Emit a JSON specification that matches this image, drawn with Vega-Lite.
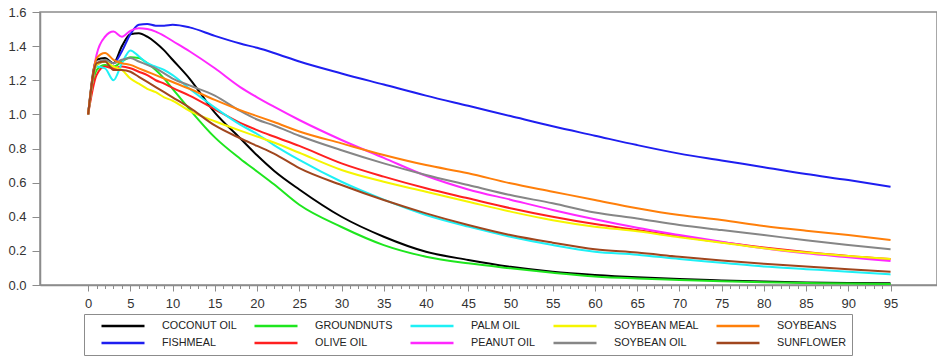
{
  "$schema": "https://vega.github.io/schema/vega-lite/v6.json",
  "width": 897,
  "height": 273,
  "autosize": {"type": "none"},
  "padding": {"left": 40, "top": 12, "right": 0, "bottom": 71},
  "background": "white",
  "config": {"view": {"stroke": "#8c8c8c", "strokeWidth": 1.5}, "font": "Liberation Sans"},
  "data": {"values": [
    {"x":0,"COCONUT OIL":1.0,"FISHMEAL":1.0,"GROUNDNUTS":1.0,"PALM OIL":1.0,"OLIVE OIL":1.0,"PEANUT OIL":1.0,"SOYBEAN MEAL":1.0,"SOYBEAN OIL":1.0,"SOYBEANS":1.0,"SUNFLOWER":1.0},
    {"x":1,"COCONUT OIL":1.32,"FISHMEAL":1.29,"GROUNDNUTS":1.26,"PALM OIL":1.28,"OLIVE OIL":1.23,"PEANUT OIL":1.35,"SOYBEAN MEAL":1.29,"SOYBEAN OIL":1.30,"SOYBEANS":1.33,"SUNFLOWER":1.30},
    {"x":2,"COCONUT OIL":1.33,"FISHMEAL":1.31,"GROUNDNUTS":1.29,"PALM OIL":1.27,"OLIVE OIL":1.28,"PEANUT OIL":1.455,"SOYBEAN MEAL":1.31,"SOYBEAN OIL":1.32,"SOYBEANS":1.36,"SUNFLOWER":1.31},
    {"x":3,"COCONUT OIL":1.30,"FISHMEAL":1.30,"GROUNDNUTS":1.28,"PALM OIL":1.20,"OLIVE OIL":1.27,"PEANUT OIL":1.485,"SOYBEAN MEAL":1.28,"SOYBEAN OIL":1.30,"SOYBEANS":1.32,"SUNFLOWER":1.26},
    {"x":4,"COCONUT OIL":1.40,"FISHMEAL":1.37,"GROUNDNUTS":1.31,"PALM OIL":1.30,"OLIVE OIL":1.28,"PEANUT OIL":1.455,"SOYBEAN MEAL":1.26,"SOYBEAN OIL":1.32,"SOYBEANS":1.30,"SUNFLOWER":1.26},
    {"x":5,"COCONUT OIL":1.47,"FISHMEAL":1.47,"GROUNDNUTS":1.335,"PALM OIL":1.375,"OLIVE OIL":1.27,"PEANUT OIL":1.49,"SOYBEAN MEAL":1.21,"SOYBEAN OIL":1.33,"SOYBEANS":1.29,"SUNFLOWER":1.25},
    {"x":6,"COCONUT OIL":1.475,"FISHMEAL":1.525,"GROUNDNUTS":1.33,"PALM OIL":1.34,"OLIVE OIL":1.25,"PEANUT OIL":1.505,"SOYBEAN MEAL":1.18,"SOYBEAN OIL":1.31,"SOYBEANS":1.27,"SUNFLOWER":1.22},
    {"x":7,"COCONUT OIL":1.455,"FISHMEAL":1.53,"GROUNDNUTS":1.30,"PALM OIL":1.30,"OLIVE OIL":1.23,"PEANUT OIL":1.50,"SOYBEAN MEAL":1.15,"SOYBEAN OIL":1.29,"SOYBEANS":1.25,"SUNFLOWER":1.19},
    {"x":8,"COCONUT OIL":1.42,"FISHMEAL":1.52,"GROUNDNUTS":1.26,"PALM OIL":1.28,"OLIVE OIL":1.20,"PEANUT OIL":1.485,"SOYBEAN MEAL":1.13,"SOYBEAN OIL":1.27,"SOYBEANS":1.23,"SUNFLOWER":1.16},
    {"x":9,"COCONUT OIL":1.375,"FISHMEAL":1.52,"GROUNDNUTS":1.21,"PALM OIL":1.26,"OLIVE OIL":1.18,"PEANUT OIL":1.46,"SOYBEAN MEAL":1.10,"SOYBEAN OIL":1.24,"SOYBEANS":1.21,"SUNFLOWER":1.13},
    {"x":10,"COCONUT OIL":1.32,"FISHMEAL":1.525,"GROUNDNUTS":1.15,"PALM OIL":1.23,"OLIVE OIL":1.155,"PEANUT OIL":1.43,"SOYBEAN MEAL":1.08,"SOYBEAN OIL":1.21,"SOYBEANS":1.19,"SUNFLOWER":1.10},
    {"x":12,"COCONUT OIL":1.21,"FISHMEAL":1.51,"GROUNDNUTS":1.03,"PALM OIL":1.15,"OLIVE OIL":1.11,"PEANUT OIL":1.37,"SOYBEAN MEAL":1.02,"SOYBEAN OIL":1.17,"SOYBEANS":1.15,"SUNFLOWER":1.04},
    {"x":15,"COCONUT OIL":1.01,"FISHMEAL":1.46,"GROUNDNUTS":0.865,"PALM OIL":1.04,"OLIVE OIL":1.03,"PEANUT OIL":1.27,"SOYBEAN MEAL":0.96,"SOYBEAN OIL":1.11,"SOYBEANS":1.085,"SUNFLOWER":0.935},
    {"x":18,"COCONUT OIL":0.86,"FISHMEAL":1.415,"GROUNDNUTS":0.74,"PALM OIL":0.94,"OLIVE OIL":0.95,"PEANUT OIL":1.16,"SOYBEAN MEAL":0.905,"SOYBEAN OIL":1.02,"SOYBEANS":1.025,"SUNFLOWER":0.86},
    {"x":20,"COCONUT OIL":0.76,"FISHMEAL":1.39,"GROUNDNUTS":0.665,"PALM OIL":0.885,"OLIVE OIL":0.908,"PEANUT OIL":1.10,"SOYBEAN MEAL":0.87,"SOYBEAN OIL":0.97,"SOYBEANS":0.99,"SUNFLOWER":0.815},
    {"x":22,"COCONUT OIL":0.67,"FISHMEAL":1.36,"GROUNDNUTS":0.59,"PALM OIL":0.82,"OLIVE OIL":0.87,"PEANUT OIL":1.045,"SOYBEAN MEAL":0.835,"SOYBEAN OIL":0.935,"SOYBEANS":0.955,"SUNFLOWER":0.77},
    {"x":25,"COCONUT OIL":0.56,"FISHMEAL":1.31,"GROUNDNUTS":0.47,"PALM OIL":0.733,"OLIVE OIL":0.815,"PEANUT OIL":0.967,"SOYBEAN MEAL":0.775,"SOYBEAN OIL":0.875,"SOYBEANS":0.9,"SUNFLOWER":0.685},
    {"x":30,"COCONUT OIL":0.40,"FISHMEAL":1.24,"GROUNDNUTS":0.34,"PALM OIL":0.605,"OLIVE OIL":0.713,"PEANUT OIL":0.85,"SOYBEAN MEAL":0.674,"SOYBEAN OIL":0.79,"SOYBEANS":0.83,"SUNFLOWER":0.586},
    {"x":35,"COCONUT OIL":0.283,"FISHMEAL":1.175,"GROUNDNUTS":0.234,"PALM OIL":0.50,"OLIVE OIL":0.635,"PEANUT OIL":0.745,"SOYBEAN MEAL":0.605,"SOYBEAN OIL":0.713,"SOYBEANS":0.762,"SUNFLOWER":0.498},
    {"x":40,"COCONUT OIL":0.195,"FISHMEAL":1.11,"GROUNDNUTS":0.166,"PALM OIL":0.41,"OLIVE OIL":0.567,"PEANUT OIL":0.64,"SOYBEAN MEAL":0.547,"SOYBEAN OIL":0.645,"SOYBEANS":0.703,"SUNFLOWER":0.42},
    {"x":45,"COCONUT OIL":0.147,"FISHMEAL":1.05,"GROUNDNUTS":0.127,"PALM OIL":0.342,"OLIVE OIL":0.508,"PEANUT OIL":0.56,"SOYBEAN MEAL":0.488,"SOYBEAN OIL":0.586,"SOYBEANS":0.655,"SUNFLOWER":0.352},
    {"x":50,"COCONUT OIL":0.107,"FISHMEAL":0.99,"GROUNDNUTS":0.098,"PALM OIL":0.283,"OLIVE OIL":0.45,"PEANUT OIL":0.50,"SOYBEAN MEAL":0.43,"SOYBEAN OIL":0.527,"SOYBEANS":0.596,"SUNFLOWER":0.293},
    {"x":55,"COCONUT OIL":0.078,"FISHMEAL":0.93,"GROUNDNUTS":0.072,"PALM OIL":0.234,"OLIVE OIL":0.40,"PEANUT OIL":0.44,"SOYBEAN MEAL":0.38,"SOYBEAN OIL":0.479,"SOYBEANS":0.547,"SUNFLOWER":0.248},
    {"x":60,"COCONUT OIL":0.059,"FISHMEAL":0.875,"GROUNDNUTS":0.05,"PALM OIL":0.195,"OLIVE OIL":0.357,"PEANUT OIL":0.385,"SOYBEAN MEAL":0.342,"SOYBEAN OIL":0.425,"SOYBEANS":0.498,"SUNFLOWER":0.209},
    {"x":65,"COCONUT OIL":0.045,"FISHMEAL":0.82,"GROUNDNUTS":0.038,"PALM OIL":0.178,"OLIVE OIL":0.322,"PEANUT OIL":0.335,"SOYBEAN MEAL":0.315,"SOYBEAN OIL":0.39,"SOYBEANS":0.45,"SUNFLOWER":0.19},
    {"x":70,"COCONUT OIL":0.035,"FISHMEAL":0.77,"GROUNDNUTS":0.03,"PALM OIL":0.152,"OLIVE OIL":0.285,"PEANUT OIL":0.293,"SOYBEAN MEAL":0.28,"SOYBEAN OIL":0.352,"SOYBEANS":0.41,"SUNFLOWER":0.165},
    {"x":75,"COCONUT OIL":0.027,"FISHMEAL":0.73,"GROUNDNUTS":0.022,"PALM OIL":0.13,"OLIVE OIL":0.25,"PEANUT OIL":0.253,"SOYBEAN MEAL":0.248,"SOYBEAN OIL":0.322,"SOYBEANS":0.381,"SUNFLOWER":0.143},
    {"x":80,"COCONUT OIL":0.02,"FISHMEAL":0.69,"GROUNDNUTS":0.016,"PALM OIL":0.108,"OLIVE OIL":0.22,"PEANUT OIL":0.215,"SOYBEAN MEAL":0.216,"SOYBEAN OIL":0.293,"SOYBEANS":0.346,"SUNFLOWER":0.124},
    {"x":85,"COCONUT OIL":0.015,"FISHMEAL":0.65,"GROUNDNUTS":0.012,"PALM OIL":0.093,"OLIVE OIL":0.193,"PEANUT OIL":0.186,"SOYBEAN MEAL":0.19,"SOYBEAN OIL":0.262,"SOYBEANS":0.318,"SUNFLOWER":0.108},
    {"x":90,"COCONUT OIL":0.012,"FISHMEAL":0.615,"GROUNDNUTS":0.009,"PALM OIL":0.078,"OLIVE OIL":0.17,"PEANUT OIL":0.163,"SOYBEAN MEAL":0.17,"SOYBEAN OIL":0.235,"SOYBEANS":0.293,"SUNFLOWER":0.093},
    {"x":95,"COCONUT OIL":0.01,"FISHMEAL":0.576,"GROUNDNUTS":0.006,"PALM OIL":0.062,"OLIVE OIL":0.152,"PEANUT OIL":0.14,"SOYBEAN MEAL":0.152,"SOYBEAN OIL":0.21,"SOYBEANS":0.264,"SUNFLOWER":0.078}
  ]},
  "transform": [
    {"fold": ["COCONUT OIL","FISHMEAL","GROUNDNUTS","OLIVE OIL","PALM OIL","PEANUT OIL","SOYBEAN MEAL","SOYBEAN OIL","SOYBEANS","SUNFLOWER"], "as": ["series","value"]}
  ],
  "mark": {"type": "line", "strokeWidth": 2, "interpolate": "monotone"},
  "encoding": {
    "x": {
      "field": "x", "type": "quantitative",
      "scale": {"domain": [-5.7, 100.5], "nice": false, "zero": false},
      "axis": {
        "title": null, "grid": false,
        "values": [0,1,2,3,4,5,6,7,8,9,10,11,12,13,14,15,16,17,18,19,20,21,22,23,24,25,26,27,28,29,30,31,32,33,34,35,36,37,38,39,40,41,42,43,44,45,46,47,48,49,50,51,52,53,54,55,56,57,58,59,60,61,62,63,64,65,66,67,68,69,70,71,72,73,74,75,76,77,78,79,80,81,82,83,84,85,86,87,88,89,90,91,92,93,94,95],
        "labelExpr": "datum.value % 5 === 0 ? datum.label : ''",
        "tickSize": {"condition": {"test": "datum.value % 5 === 0", "value": 6}, "value": 3.5},
        "labelOverlap": false, "labelFlush": false,
        "labelPadding": 6,
        "labelFontSize": 13, "labelColor": "#333333", "labelFont": "Liberation Sans",
        "domainColor": "#8c8c8c", "domainWidth": 1.5, "tickColor": "#8c8c8c", "tickWidth": 1
      }
    },
    "y": {
      "field": "value", "type": "quantitative",
      "scale": {"domain": [0, 1.6], "nice": false},
      "axis": {
        "title": null, "grid": false,
        "values": [0, 0.2, 0.4, 0.6, 0.8, 1.0, 1.2, 1.4, 1.6],
        "format": ".1f",
        "tickSize": 8, "labelPadding": 6,
        "labelFontSize": 13, "labelColor": "#333333", "labelFont": "Liberation Sans",
        "domainColor": "#8c8c8c", "domainWidth": 1.5, "tickColor": "#8c8c8c", "tickWidth": 1
      }
    },
    "color": {
      "field": "series", "type": "nominal",
      "scale": {
        "domain": ["COCONUT OIL","GROUNDNUTS","PALM OIL","SOYBEAN MEAL","SOYBEANS","FISHMEAL","OLIVE OIL","PEANUT OIL","SOYBEAN OIL","SUNFLOWER"],
        "range": ["#000000","#1ee61e","#1ef0f5","#f5f500","#ff7f0a","#1e1ef0","#ff2020","#ff28ff","#868686","#a0461e"]
      },
      "legend": {
        "orient": "none", "legendX": 44, "legendY": 302,
        "direction": "horizontal", "columns": 5,
        "title": null,
        "symbolType": "stroke", "symbolSize": 1850, "symbolStrokeWidth": 2.5,
        "clipHeight": 12, "symbolOffset": 10,
        "labelFontSize": 10.8, "labelFont": "Liberation Sans", "labelColor": "#222222",
        "labelOffset": 16,
        "strokeColor": "#8c8c8c", "padding": 6,
        "columnPadding": 6, "rowPadding": 5
      }
    }
  }
}
